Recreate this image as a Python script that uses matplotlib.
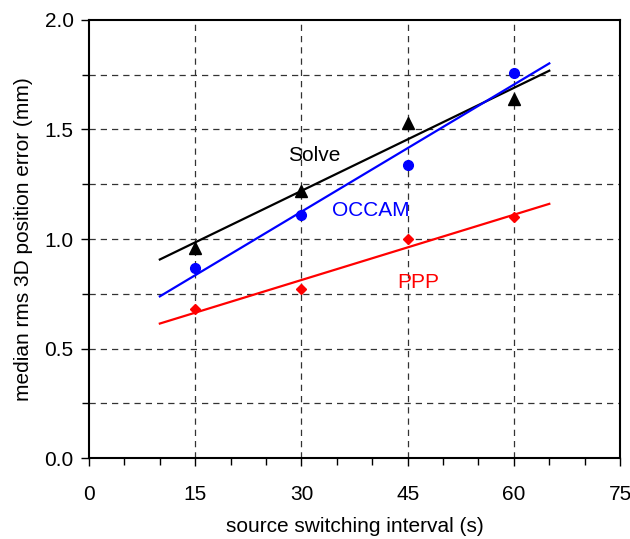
import numpy as np
import matplotlib
matplotlib.use("Agg")
import matplotlib.pyplot as plt
from matplotlib.ticker import MultipleLocator

plt.rcParams['font.family'] = ['Liberation Sans', 'DejaVu Sans']

# switching interval (s)
interval = [15, 30, 45, 60]
# median rms 3D position error (mm)
solve = [0.96, 1.22, 1.53, 1.64]
occam = [0.87, 1.11, 1.34, 1.76]
ppp = [0.68, 0.77, 1.00, 1.10]

series = [
    ("Solve", solve, "black", "^", 8, (31.8, 1.38)),
    ("OCCAM", occam, "blue", "o", 7, (39.8, 1.13)),
    ("PPP", ppp, "red", "D", 5.5, (46.5, 0.80)),
]

fig = plt.figure(figsize=(6.30, 5.39), dpi=100)
ax = fig.add_axes([0.1413, 0.150, 0.843, 0.813])

ax.set_xlim(0, 75)
ax.set_ylim(0, 2.0)

# dashed grid
for gx in [15, 30, 45, 60]:
    ax.axvline(gx, color="#333333", lw=0.9, ls=(0, (5, 4)), zorder=1)
for gy in np.arange(0.25, 2.0, 0.25):
    ax.axhline(gy, color="#333333", lw=0.9, ls=(0, (5, 4)), zorder=1)

xfit = np.array([10, 65])
for name, vals, col, mk, ms, (tx, ty) in series:
    coef = np.polyfit(interval, vals, 1)
    ax.plot(xfit, np.polyval(coef, xfit), color=col, lw=1.6, zorder=3)
    ax.plot(interval, vals, ls="none", marker=mk, color=col, ms=ms, zorder=4)
    ax.text(tx, ty, name, color=col, fontsize=15, ha="center", va="center", zorder=5)

ax.xaxis.set_major_locator(MultipleLocator(15))
ax.xaxis.set_minor_locator(MultipleLocator(5))
ax.yaxis.set_major_locator(MultipleLocator(0.5))
ax.yaxis.set_minor_locator(MultipleLocator(0.25))
ax.yaxis.set_major_formatter(matplotlib.ticker.FormatStrFormatter("%.1f"))

ax.tick_params(axis="both", which="major", direction="out", length=6, width=1,
               labelsize=15, pad=5)
ax.tick_params(axis="both", which="minor", direction="out", length=5, width=1)
ax.tick_params(axis="x", which="major", pad=13)

for sp in ax.spines.values():
    sp.set_linewidth(1.5)

ax.set_xlabel("source switching interval (s)", fontsize=15, labelpad=10)
ax.set_ylabel("median rms 3D position error (mm)", fontsize=15, labelpad=8)

fig.savefig("out.png", dpi=100)
